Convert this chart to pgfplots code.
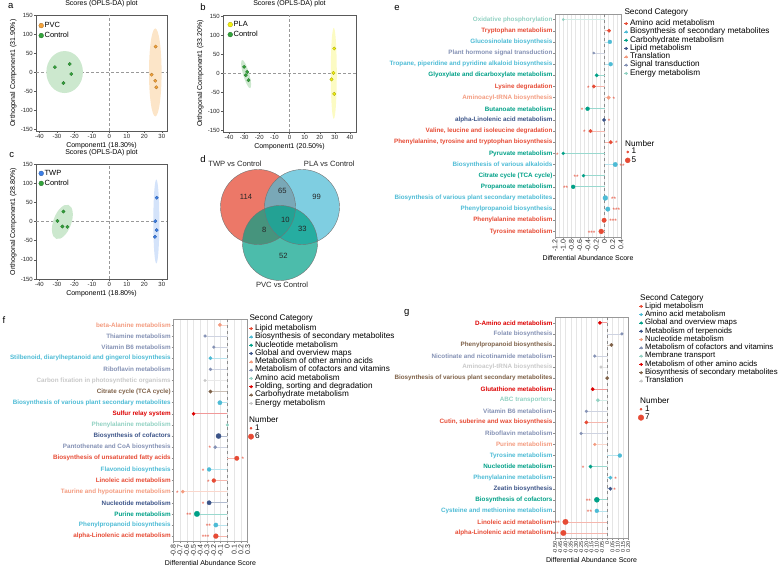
\documentclass[border=0pt]{standalone}
\usepackage{fontspec}
\setmainfont{Liberation Sans}
\usepackage{pgfplots}
\pgfplotsset{compat=1.18}

% category palette
\definecolor{npgRed}{HTML}{E64B35}
\definecolor{npgBlue}{HTML}{4DBBD5}
\definecolor{npgTeal}{HTML}{00A087}
\definecolor{npgNavy}{HTML}{3C5488}
\definecolor{npgSalmon}{HTML}{F39B7F}
\definecolor{npgSlate}{HTML}{8491B4}
\definecolor{npgMint}{HTML}{91D1C2}
\definecolor{npgCrimson}{HTML}{DC0000}
\definecolor{npgBrown}{HTML}{7E6148}
\definecolor{npgGray}{HTML}{C8C8C8}
% group colours of the score plots
\definecolor{pvcOrange}{HTML}{F5A33A}
\definecolor{ctrlGreen}{HTML}{34A43C}
\definecolor{plaYellow}{HTML}{F2F00F}
\definecolor{twpBlue}{HTML}{3C7FE8}

\newcommand{\fs}[1]{\fontsize{#1}{#1}\selectfont}
\newcommand{\cl}[2]{\textcolor{#1}{#2}}
% one pathway: row, score, dot radius, colour
\newcommand{\lolli}[4]{\addplot[xcomb, draw=#4!40, line width=0.7pt, mark=*, mark size=#3pt,
  mark options={draw=#4, fill=#4, line width=0.2pt}] coordinates {(#2,#1)};}

\pgfplotsset{
  scores/.style={
    scale only axis, anchor=south west,
    axis line style={black!65, line width=0.5pt},
    tick style={black!65, line width=0.4pt},
    tick align=outside, major tick length=2pt, tick pos=left,
    ticklabel style={font=\fs{6}, inner sep=1pt, text=black!85},
    xlabel style={font=\fs{7}, inner sep=1pt},
    ylabel style={font=\fs{7}, inner sep=1pt},
    title style={font=\fs{7}, inner sep=0pt, yshift=1.5pt},
    title={Scores (OPLS-DA) plot},
    ytick={-150,-100,-50,0,50,100,150},
    yticklabels={-150,-100,-50,0,50,100,150},
    extra x ticks={0}, extra y ticks={0},
    extra x tick labels={}, extra y tick labels={},
    extra tick style={major tick length=0pt, grid=major,
      major grid style={densely dashed, black!40, line width=0.4pt}},
    legend cell align=left,
    legend style={draw=none, fill=none, inner sep=0pt, font=\fs{7.5}, row sep=1.5pt,
      nodes={inner sep=0.6pt, text height=5.8pt, text depth=1.5pt},
      /tikz/every odd column/.append style={column sep=0.4pt}},
    legend image code/.code={\draw[##1, mark size=2.4pt] plot coordinates {(2.4pt,0pt)};},
  },
  dots/.style={only marks, mark=*, mark size=1.7pt,
    mark options={fill=#1, draw=#1!70!black, line width=0.3pt}},
  lolli/.style={
    scale only axis, anchor=south west, clip=false,
    y dir=reverse, ymin=0.5, ymax=20.5, ytick={1,...,20},
    axis line style={black!40, line width=0.6pt},
    tick style={black!45, line width=0.4pt}, tick align=outside,
    major tick length=1.6pt, minor tick length=0pt, tick pos=left,
    xmajorgrids, xminorgrids,
    major grid style={black!10, line width=0.35pt},
    minor grid style={black!10, line width=0.35pt},
    yticklabel style={font=\bfseries\fs{6.3}, inner sep=0.8pt},
    xticklabel style={font=\fs{7}, rotate=90, anchor=east, inner sep=1pt, text=black!85},
    xlabel={Differential Abundance Score}, xlabel style={font=\fs{7}, inner sep=1pt},
    extra x ticks={0}, extra x tick labels={},
    extra x tick style={major tick length=0pt, grid=major,
      major grid style={dashed, black!45, line width=0.5pt}},
  },
  stars/.style={draw=none, mark=none, nodes near coords, point meta=explicit symbolic,
    every node near coord/.append style={font=\fs{6.5}, text=npgRed, inner sep=0pt,
      anchor=center, yshift=-1.4pt}},
  keybox/.style={hide axis, scale only axis, width=1pt, height=1pt,
    xmin=0, xmax=1, ymin=0, ymax=1, anchor=north west,
    legend cell align=left,
    legend style={at={(0,1)}, anchor=north west, draw=none, fill=none,
      inner sep=0pt, outer sep=0pt, font=\fs{8.2}, row sep=0pt,
      nodes={inner sep=0pt, text height=6pt, text depth=2.3pt},
      /tikz/every odd column/.append style={column sep=1.3pt}},
    legend image code/.code={\draw[mark repeat=2, mark phase=2, line width=0.5pt, ##1]
      plot coordinates {(0pt,0pt) (2.2pt,0pt) (4.4pt,0pt)};},
  },
  sizebox/.style={keybox,
    legend image code/.code={\draw[##1] plot coordinates {(2.6pt,0pt)};}},
}

\begin{document}
\begin{tikzpicture}
\path[use as bounding box] (0,0) rectangle (779pt,567pt);

% ---------------- a ----------------
\begin{axis}[scores, at={(36pt,436pt)}, width=131pt, height=116pt,
  xmin=-42, xmax=33, ymin=-155, ymax=150,
  xtick={-40,-30,-20,-10,0,10,20,30}, xticklabels={-40,-30,-20,-10,0,10,20,30},
  xlabel={Component1 (18.30\%)}, ylabel={Orthogonal Component1 (31.90\%)},
  legend style={at={(0.02,0.947)}, anchor=north west}]
\fill[ctrlGreen!25] (axis cs:-25.6,0) ellipse[x radius=18.3pt, y radius=21pt];
\fill[pvcOrange!28] (axis cs:26.3,-1) ellipse[x radius=6.3pt, y radius=44pt];
\addplot[dots=pvcOrange] table {
x y
26.5 67
24.2 -7
26.3 -23
26.9 -40
};
\addplot[dots=ctrlGreen] table {
x y
-31.2 13
-22.7 21
-21.8 -5
-26.3 -29
};
\legend{PVC, Control}
\end{axis}

% ---------------- b ----------------
\begin{axis}[scores, at={(223pt,435pt)}, width=133pt, height=117pt,
  xmin=-44, xmax=44, ymin=-154, ymax=153,
  xtick={-40,-30,-20,-10,0,10,20,30,40}, xticklabels={-40,-30,-20,-10,0,10,20,30,40},
  xlabel={Component1 (20.50\%)}, ylabel={Orthogonal Component1 (33.20\%)},
  legend style={at={(0.035,0.956)}, anchor=north west}]
\fill[ctrlGreen!25, rotate around={16:(axis cs:-28.7,-2)}] (axis cs:-28.7,-2) ellipse[x radius=3pt, y radius=14.7pt];
\fill[plaYellow!25] (axis cs:29.3,0) ellipse[x radius=3pt, y radius=45.5pt];
\addplot[dots=plaYellow] table {
x y
29.6 65
29.1 1
27.8 -16
29.6 -54
};
\addplot[dots=ctrlGreen] table {
x y
-30.0 17
-28.0 3.5
-28.9 -5
-27.1 -18
};
\legend{PLA, Control}
\end{axis}

% ---------------- c ----------------
\begin{axis}[scores, at={(36pt,288pt)}, width=131pt, height=115pt,
  xmin=-42, xmax=33, ymin=-150, ymax=150,
  xtick={-40,-30,-20,-10,0,10,20,30}, xticklabels={-40,-30,-20,-10,0,10,20,30},
  xlabel={Component1 (18.80\%)}, ylabel={Orthogonal Component1 (28.80\%)},
  legend style={at={(0.02,0.957)}, anchor=north west}]
\fill[ctrlGreen!25, rotate around={-20:(axis cs:-26.9,-1)}] (axis cs:-26.9,-1) ellipse[x radius=9pt, y radius=18pt];
\fill[twpBlue!22] (axis cs:26.9,0) ellipse[x radius=3pt, y radius=42pt];
\addplot[dots=twpBlue] table {
x y
27.1 62
26.3 0.8
27.1 -22.5
26.1 -40
};
\addplot[dots=ctrlGreen] table {
x y
-26.3 26
-29.7 1.5
-26.9 -13
-24.0 -14
};
\legend{TWP, Control}
\end{axis}

% ---------------- d ----------------
\begin{axis}[hide axis, scale only axis, anchor=south west, at={(200pt,267pt)},
  width=160pt, height=150pt, xmin=200, xmax=360, ymin=150, ymax=300,
  y dir=reverse, clip=false]
\fill[npgRed, fill opacity=0.75] (axis cs:258,207) circle[radius=37.5pt];
\fill[npgBlue, fill opacity=0.72] (axis cs:302,207) circle[radius=37.5pt];
\fill[npgTeal, fill opacity=0.7] (axis cs:280,243) circle[radius=37.5pt];
\draw[black!55, line width=0.4pt] (axis cs:258,207) circle[radius=37.5pt];
\draw[black!55, line width=0.4pt] (axis cs:302,207) circle[radius=37.5pt];
\draw[black!55, line width=0.4pt] (axis cs:280,243) circle[radius=37.5pt];
\begin{scope}[every node/.style={font=\fs{7.6}, text=black!85}]
\node at (axis cs:246,197.3) {114};
\node at (axis cs:282.3,191) {65};
\node at (axis cs:316.7,197.3) {99};
\node at (axis cs:285.3,220) {10};
\node at (axis cs:264.3,230) {8};
\node at (axis cs:302.3,228.7) {33};
\node at (axis cs:283.3,255.7) {52};
\node at (axis cs:235,163.3) {TWP vs Control};
\node at (axis cs:329.3,163.3) {PLA vs Control};
\node at (axis cs:282,284.7) {PVC vs Control};
\end{scope}
\end{axis}

% ---------------- e ----------------
\begin{axis}[lolli, at={(555pt,330pt)}, width=66pt, height=223pt,
  xmin=-1.2, xmax=0.4,
  xtick={-1.2,-1,-0.8,-0.6,-0.4,-0.2,0,0.2,0.4},
  xticklabels={-1.2,-1.0,-0.8,-0.6,-0.4,-0.2,0,0.2,0.4},
  minor xtick={-1.1,-0.9,-0.7,-0.5,-0.3,-0.1,0.1,0.3},
  yticklabels={
    {\cl{npgMint}{Oxidative phosphorylation}},
    {\cl{npgRed}{Tryptophan metabolism}},
    {\cl{npgBlue}{Glucosinolate biosynthesis}},
    {\cl{npgSlate}{Plant hormone signal transduction}},
    {\cl{npgBlue}{Tropane, piperidine and pyridine alkaloid biosynthesis}},
    {\cl{npgTeal}{Glyoxylate and dicarboxylate metabolism}},
    {\cl{npgRed}{Lysine degradation}},
    {\cl{npgSalmon}{Aminoacyl-tRNA biosynthesis}},
    {\cl{npgTeal}{Butanoate metabolism}},
    {\cl{npgNavy}{alpha-Linolenic acid metabolism}},
    {\cl{npgRed}{Valine, leucine and isoleucine degradation}},
    {\cl{npgRed}{Phenylalanine, tyrosine and tryptophan biosynthesis}},
    {\cl{npgTeal}{Pyruvate metabolism}},
    {\cl{npgBlue}{Biosynthesis of various alkaloids}},
    {\cl{npgTeal}{Citrate cycle (TCA cycle)}},
    {\cl{npgTeal}{Propanoate metabolism}},
    {\cl{npgBlue}{Biosynthesis of various plant secondary metabolites}},
    {\cl{npgBlue}{Phenylpropanoid biosynthesis}},
    {\cl{npgRed}{Phenylalanine metabolism}},
    {\cl{npgRed}{Tyrosine metabolism}}}]
\lolli{1}{-1.00}{1.2}{npgMint}
\lolli{2}{0.11}{1.8}{npgRed}
\lolli{3}{0.13}{2.0}{npgBlue}
\lolli{4}{-0.26}{1.2}{npgSlate}
\lolli{5}{0.15}{2.0}{npgBlue}
\lolli{6}{-0.19}{1.8}{npgTeal}
\lolli{7}{-0.26}{1.8}{npgRed}
\lolli{8}{0.10}{1.9}{npgSalmon}
\lolli{9}{-0.41}{2.0}{npgTeal}
\lolli{10}{-0.01}{1.8}{npgNavy}
\lolli{11}{-0.34}{1.9}{npgRed}
\lolli{12}{0.15}{1.9}{npgRed}
\lolli{13}{-1.00}{1.6}{npgTeal}
\lolli{14}{0.26}{2.3}{npgBlue}
\lolli{15}{-0.51}{1.6}{npgTeal}
\lolli{16}{-0.76}{2.0}{npgTeal}
\lolli{17}{0.02}{2.5}{npgBlue}
\lolli{18}{0.08}{2.3}{npgBlue}
\lolli{19}{-0.01}{2.3}{npgRed}
\lolli{20}{-0.08}{2.5}{npgRed}
\addplot[stars] table[meta=s] {
x y s
-0.39 7 *
0.23 8 *
-0.54 9 *
0.11 10 *
-0.49 11 *
0.29 12 *
-1.14 13 *
0.43 14 **
-0.69 15 **
-0.94 16 **
0.22 17 **
0.29 18 ***
0.21 19 ***
-0.31 20 ***
};
\end{axis}

% ---------------- f ----------------
\begin{axis}[lolli, at={(173.3pt,25.3pt)}, width=74.3pt, height=222.4pt,
  xmin=-0.8, xmax=0.3,
  xtick={-0.8,-0.7,-0.6,-0.5,-0.4,-0.3,-0.2,-0.1,0,0.1,0.2,0.3},
  xticklabels={-0.8,-0.7,-0.6,-0.5,-0.4,-0.3,-0.2,-0.1,0,0.1,0.2,0.3},
  yticklabels={
    {\cl{npgSalmon}{beta-Alanine metabolism}},
    {\cl{npgSlate}{Thiamine metabolism}},
    {\cl{npgSlate}{Vitamin B6 metabolism}},
    {\cl{npgBlue}{Stilbenoid, diarylheptanoid and gingerol biosynthesis}},
    {\cl{npgSlate}{Riboflavin metabolism}},
    {\cl{npgGray}{Carbon fixation in photosynthetic organisms}},
    {\cl{npgBrown}{Citrate cycle (TCA cycle)}},
    {\cl{npgBlue}{Biosynthesis of various plant secondary metabolites}},
    {\cl{npgCrimson}{Sulfur relay system}},
    {\cl{npgMint}{Phenylalanine metabolism}},
    {\cl{npgNavy}{Biosynthesis of cofactors}},
    {\cl{npgSlate}{Pantothenate and CoA biosynthesis}},
    {\cl{npgRed}{Biosynthesis of unsaturated fatty acids}},
    {\cl{npgBlue}{Flavonoid biosynthesis}},
    {\cl{npgRed}{Linoleic acid metabolism}},
    {\cl{npgSalmon}{Taurine and hypotaurine metabolism}},
    {\cl{npgNavy}{Nucleotide metabolism}},
    {\cl{npgTeal}{Purine metabolism}},
    {\cl{npgBlue}{Phenylpropanoid biosynthesis}},
    {\cl{npgRed}{alpha-Linolenic acid metabolism}}}]
\lolli{1}{-0.11}{1.8}{npgSalmon}
\lolli{2}{-0.33}{1.5}{npgSlate}
\lolli{3}{-0.20}{1.5}{npgSlate}
\lolli{4}{-0.25}{1.8}{npgBlue}
\lolli{5}{-0.25}{1.6}{npgSlate}
\lolli{6}{-0.33}{1.4}{npgGray}
\lolli{7}{-0.25}{1.8}{npgBrown}
\lolli{8}{-0.11}{2.2}{npgBlue}
\lolli{9}{-0.50}{1.7}{npgCrimson}
\lolli{10}{0.00}{1.5}{npgMint}
\lolli{11}{-0.13}{2.6}{npgNavy}
\lolli{12}{-0.18}{1.7}{npgSlate}
\lolli{13}{0.14}{2.3}{npgRed}
\lolli{14}{-0.27}{2.0}{npgBlue}
\lolli{15}{-0.20}{2.0}{npgRed}
\lolli{16}{-0.66}{1.7}{npgSalmon}
\lolli{17}{-0.27}{2.2}{npgNavy}
\lolli{18}{-0.45}{2.8}{npgTeal}
\lolli{19}{-0.17}{2.2}{npgBlue}
\lolli{20}{-0.17}{2.5}{npgRed}
\addplot[stars] table[meta=s] {
x y s
-0.26 12 *
0.23 13 *
-0.36 14 *
-0.28 15 *
-0.74 16 *
-0.36 17 *
-0.57 18 **
-0.28 19 **
-0.32 20 ***
};
\end{axis}

% ---------------- g ----------------
\begin{axis}[lolli, at={(555pt,28.5pt)}, width=73.2pt, height=221.2pt,
  xmin=-0.5, xmax=0.2,
  xtick={-0.5,-0.45,-0.4,-0.35,-0.3,-0.25,-0.2,-0.15,-0.1,-0.05,0,0.05,0.1,0.15,0.2},
  xticklabels={-0.50,-0.45,-0.40,-0.35,-0.30,-0.25,-0.20,-0.15,-0.10,-0.05,0,0.05,0.10,0.15,0.20},
  xticklabel style={font=\fs{5.5}},
  yticklabels={
    {\cl{npgCrimson}{D-Amino acid metabolism}},
    {\cl{npgSlate}{Folate biosynthesis}},
    {\cl{npgBrown}{Phenylpropanoid biosynthesis}},
    {\cl{npgSlate}{Nicotinate and nicotinamide metabolism}},
    {\cl{npgGray}{Aminoacyl-tRNA biosynthesis}},
    {\cl{npgBrown}{Biosynthesis of various plant secondary metabolites}},
    {\cl{npgCrimson}{Glutathione metabolism}},
    {\cl{npgMint}{ABC transporters}},
    {\cl{npgSlate}{Vitamin B6 metabolism}},
    {\cl{npgRed}{Cutin, suberine and wax biosynthesis}},
    {\cl{npgSlate}{Riboflavin metabolism}},
    {\cl{npgSalmon}{Purine metabolism}},
    {\cl{npgBlue}{Tyrosine metabolism}},
    {\cl{npgTeal}{Nucleotide metabolism}},
    {\cl{npgBlue}{Phenylalanine metabolism}},
    {\cl{npgNavy}{Zeatin biosynthesis}},
    {\cl{npgTeal}{Biosynthesis of cofactors}},
    {\cl{npgBlue}{Cysteine and methionine metabolism}},
    {\cl{npgRed}{Linoleic acid metabolism}},
    {\cl{npgRed}{alpha-Linolenic acid metabolism}}}]
\lolli{1}{-0.07}{1.8}{npgCrimson}
\lolli{2}{0.14}{1.5}{npgSlate}
\lolli{3}{0.04}{1.8}{npgBrown}
\lolli{4}{-0.12}{1.5}{npgSlate}
\lolli{5}{-0.06}{1.5}{npgGray}
\lolli{6}{0.00}{1.8}{npgBrown}
\lolli{7}{-0.14}{1.8}{npgCrimson}
\lolli{8}{-0.09}{1.8}{npgMint}
\lolli{9}{-0.20}{1.5}{npgSlate}
\lolli{10}{-0.20}{1.8}{npgRed}
\lolli{11}{-0.25}{1.5}{npgSlate}
\lolli{12}{-0.12}{1.5}{npgSalmon}
\lolli{13}{0.12}{2.0}{npgBlue}
\lolli{14}{-0.16}{1.8}{npgTeal}
\lolli{15}{0.03}{1.8}{npgBlue}
\lolli{16}{0.03}{1.8}{npgNavy}
\lolli{17}{-0.10}{2.6}{npgTeal}
\lolli{18}{-0.10}{2.0}{npgBlue}
\lolli{19}{-0.40}{2.8}{npgRed}
\lolli{20}{-0.42}{2.8}{npgRed}
\addplot[stars] table[meta=s] {
x y s
-0.23 14 *
0.08 15 *
0.07 16 *
-0.18 17 **
-0.17 18 **
-0.49 19 ***
-0.50 20 ***
};
\end{axis}

% ---------------- keys ----------------
\begin{axis}[keybox, at={(623.8pt,547.5pt)}]
\addlegendimage{npgRed, mark=*, mark size=1.2pt}
\addlegendentry{Amino acid metabolism}
\addlegendimage{npgBlue, mark=*, mark size=1.2pt}
\addlegendentry{Biosynthesis of secondary metabolites}
\addlegendimage{npgTeal, mark=*, mark size=1.2pt}
\addlegendentry{Carbohydrate metabolism}
\addlegendimage{npgNavy, mark=*, mark size=1.2pt}
\addlegendentry{Lipid metabolism}
\addlegendimage{npgSalmon, mark=*, mark size=1.2pt}
\addlegendentry{Translation}
\addlegendimage{npgSlate, mark=*, mark size=1.2pt}
\addlegendentry{Signal transduction}
\addlegendimage{npgMint, mark=*, mark size=1.2pt}
\addlegendentry{Energy metabolism}
\end{axis}
\begin{axis}[sizebox, at={(625.2pt,419.1pt)}]
\addlegendimage{only marks, mark=*, npgRed, mark size=1.1pt}
\addlegendentry{1}
\addlegendimage{only marks, mark=*, npgRed, mark size=2.5pt}
\addlegendentry{5}
\end{axis}

\begin{axis}[keybox, at={(248.8pt,242.5pt)}]
\addlegendimage{npgRed, mark=*, mark size=1.2pt}
\addlegendentry{Lipid metabolism}
\addlegendimage{npgBlue, mark=*, mark size=1.2pt}
\addlegendentry{Biosynthesis of secondary metabolites}
\addlegendimage{npgTeal, mark=*, mark size=1.2pt}
\addlegendentry{Nucleotide metabolism}
\addlegendimage{npgNavy, mark=*, mark size=1.2pt}
\addlegendentry{Global and overview maps}
\addlegendimage{npgSalmon, mark=*, mark size=1.2pt}
\addlegendentry{Metabolism of other amino acids}
\addlegendimage{npgSlate, mark=*, mark size=1.2pt}
\addlegendentry{Metabolism of cofactors and vitamins}
\addlegendimage{npgMint, mark=*, mark size=1.2pt}
\addlegendentry{Amino acid metabolism}
\addlegendimage{npgCrimson, mark=*, mark size=1.2pt}
\addlegendentry{Folding, sorting and degradation}
\addlegendimage{npgBrown, mark=*, mark size=1.2pt}
\addlegendentry{Carbohydrate metabolism}
\addlegendimage{npgGray, mark=*, mark size=1.2pt}
\addlegendentry{Energy metabolism}
\end{axis}
\begin{axis}[sizebox, at={(248.3pt,142.8pt)}]
\addlegendimage{only marks, mark=*, npgRed, mark size=1.1pt}
\addlegendentry{1}
\addlegendimage{only marks, mark=*, npgRed, mark size=2.7pt}
\addlegendentry{6}
\end{axis}

\begin{axis}[keybox, at={(638.8pt,264.8pt)}, legend style={font=\fs{7.8}}]
\addlegendimage{npgRed, mark=*, mark size=1.2pt}
\addlegendentry{Lipid metabolism}
\addlegendimage{npgBlue, mark=*, mark size=1.2pt}
\addlegendentry{Amino acid metabolism}
\addlegendimage{npgTeal, mark=*, mark size=1.2pt}
\addlegendentry{Global and overview maps}
\addlegendimage{npgNavy, mark=*, mark size=1.2pt}
\addlegendentry{Metabolism of terpenoids}
\addlegendimage{npgSalmon, mark=*, mark size=1.2pt}
\addlegendentry{Nucleotide metabolism}
\addlegendimage{npgSlate, mark=*, mark size=1.2pt}
\addlegendentry{Metabolism of cofactors and vitamins}
\addlegendimage{npgMint, mark=*, mark size=1.2pt}
\addlegendentry{Membrane transport}
\addlegendimage{npgCrimson, mark=*, mark size=1.2pt}
\addlegendentry{Metabolism of other amino acids}
\addlegendimage{npgBrown, mark=*, mark size=1.2pt}
\addlegendentry{Biosynthesis of secondary metabolites}
\addlegendimage{npgGray, mark=*, mark size=1.2pt}
\addlegendentry{Translation}
\end{axis}
\begin{axis}[sizebox, at={(638.2pt,161.8pt)}]
\addlegendimage{only marks, mark=*, npgRed, mark size=1.1pt}
\addlegendentry{1}
\addlegendimage{only marks, mark=*, npgRed, mark size=2.8pt}
\addlegendentry{7}
\end{axis}

% ---------------- titles of keys and panel letters ----------------
\begin{scope}[every node/.style={anchor=base west, inner sep=0pt, font=\fs{8.2}}]
\node at (624.3pt,552.5pt) {Second Category};
\node at (625pt,420.2pt) {Number};
\node at (249.3pt,246.5pt) {Second Category};
\node at (249pt,144.2pt) {Number};
\node at (640pt,266.2pt) {Second Category};
\node at (640pt,163.2pt) {Number};
\end{scope}
\begin{scope}[every node/.style={anchor=center, inner sep=0pt, font=\fs{9.5}}]
\node at (10.7pt,561pt) {a};
\node at (203pt,560pt) {b};
\node at (11.7pt,412pt) {c};
\node at (203pt,408pt) {d};
\node at (397pt,559pt) {e};
\node at (4pt,247pt) {f};
\node at (406.7pt,253.7pt) {g};
\end{scope}
\end{tikzpicture}
\end{document}
